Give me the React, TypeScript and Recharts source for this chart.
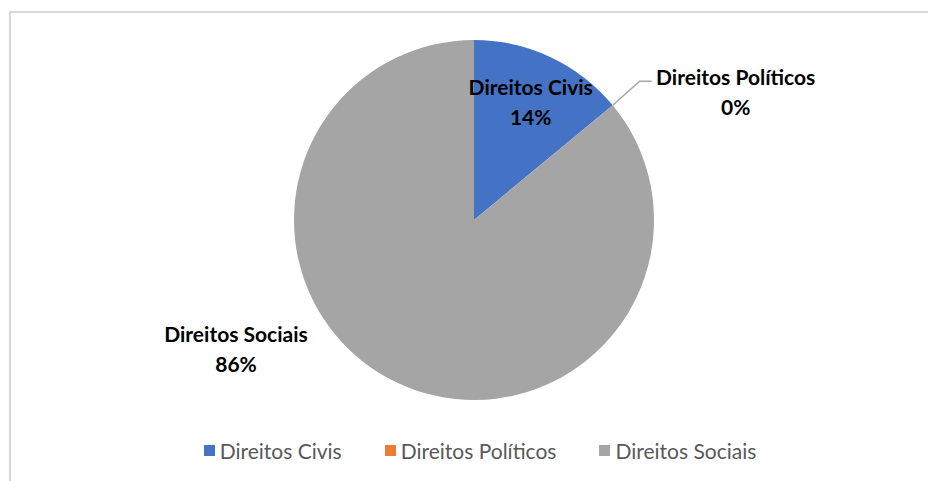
import { PieChart, Pie, Cell } from "recharts";

const categories = ["Direitos Civis", "Direitos Políticos", "Direitos Sociais"];
const values = [14, 0, 86];
const percentLabels = ["14%", "0%", "86%"];
const colors = ["#4472C4", "#ED7D31", "#A5A5A5"];

const data = categories.map((name, i) => ({ name, value: values[i] }));

const FONT = "Lato, 'Open Sans', sans-serif";
const RAD = Math.PI / 180;

function renderLabel(props: any) {
  const { cx, cy, outerRadius, midAngle, index } = props;
  const name = categories[index];
  const pct = percentLabels[index];
  const textStyle = { fontFamily: FONT, fontWeight: 700, fontSize: 21, fill: "#000" };

  if (index === 0) {
    const r = outerRadius * 0.74;
    const x = cx + r * Math.cos(-midAngle * RAD);
    const y = cy + r * Math.sin(-midAngle * RAD);
    return (
      <text x={x} y={y} textAnchor="middle" style={textStyle}>
        <tspan x={x} dy={-4}>{name}</tspan>
        <tspan x={x} dy={30}>{pct}</tspan>
      </text>
    );
  }
  if (index === 1) {
    const sx = cx + outerRadius * Math.cos(-midAngle * RAD);
    const sy = cy + outerRadius * Math.sin(-midAngle * RAD);
    const mx = sx + 27;
    const my = sy - 24;
    const ex = mx + 12;
    const tx = ex + 84;
    return (
      <g>
        <polyline
          points={`${sx},${sy} ${mx},${my} ${ex},${my}`}
          fill="none"
          stroke="#A6A6A6"
          strokeWidth={1.5}
        />
        <text x={tx} y={my} textAnchor="middle" style={textStyle}>
          <tspan x={tx} dy={4}>{name}</tspan>
          <tspan x={tx} dy={30}>{pct}</tspan>
        </text>
      </g>
    );
  }
  const x = cx - outerRadius - 58;
  const y = cy + 122;
  return (
    <text x={x} y={y} textAnchor="middle" style={textStyle}>
      <tspan x={x} dy={0}>{name}</tspan>
      <tspan x={x} dy={30}>{pct}</tspan>
    </text>
  );
}

function LegendRow() {
  return (
    <div
      style={{
        position: "absolute",
        left: 0,
        top: 438,
        width: 928,
        display: "flex",
        justifyContent: "center",
        gap: 43,
        fontFamily: FONT,
        fontSize: 21,
        color: "#595959",
        paddingLeft: 32,
        boxSizing: "border-box",
      }}
    >
      {categories.map((c, i) => (
        <div key={c} style={{ display: "flex", alignItems: "center" }}>
          <span
            style={{
              display: "inline-block",
              width: 11,
              height: 11,
              background: colors[i],
              marginRight: 5,
            }}
          />
          <span>{c}</span>
        </div>
      ))}
    </div>
  );
}

export default function App() {
  return (
    <div
      style={{
        position: "absolute",
        left: 0,
        top: 0,
        width: 928,
        height: 481,
        background: "#fff",
        overflow: "hidden",
      }}
    >
      <div
        style={{
          position: "absolute",
          left: 9,
          top: 11,
          right: -10,
          bottom: -10,
          border: "2px solid #D9D9D9",
        }}
      />
      <PieChart width={928} height={481} style={{ position: "absolute", left: 0, top: 0 }}>
        <Pie
          data={data}
          dataKey="value"
          nameKey="name"
          cx={469}
          cy={215}
          outerRadius={180}
          startAngle={90}
          endAngle={-270}
          stroke="none"
          label={renderLabel}
          labelLine={false}
          isAnimationActive={false}
        >
          {data.map((d, i) => (
            <Cell key={d.name} fill={colors[i]} />
          ))}
        </Pie>
      </PieChart>
      <LegendRow />
    </div>
  );
}
